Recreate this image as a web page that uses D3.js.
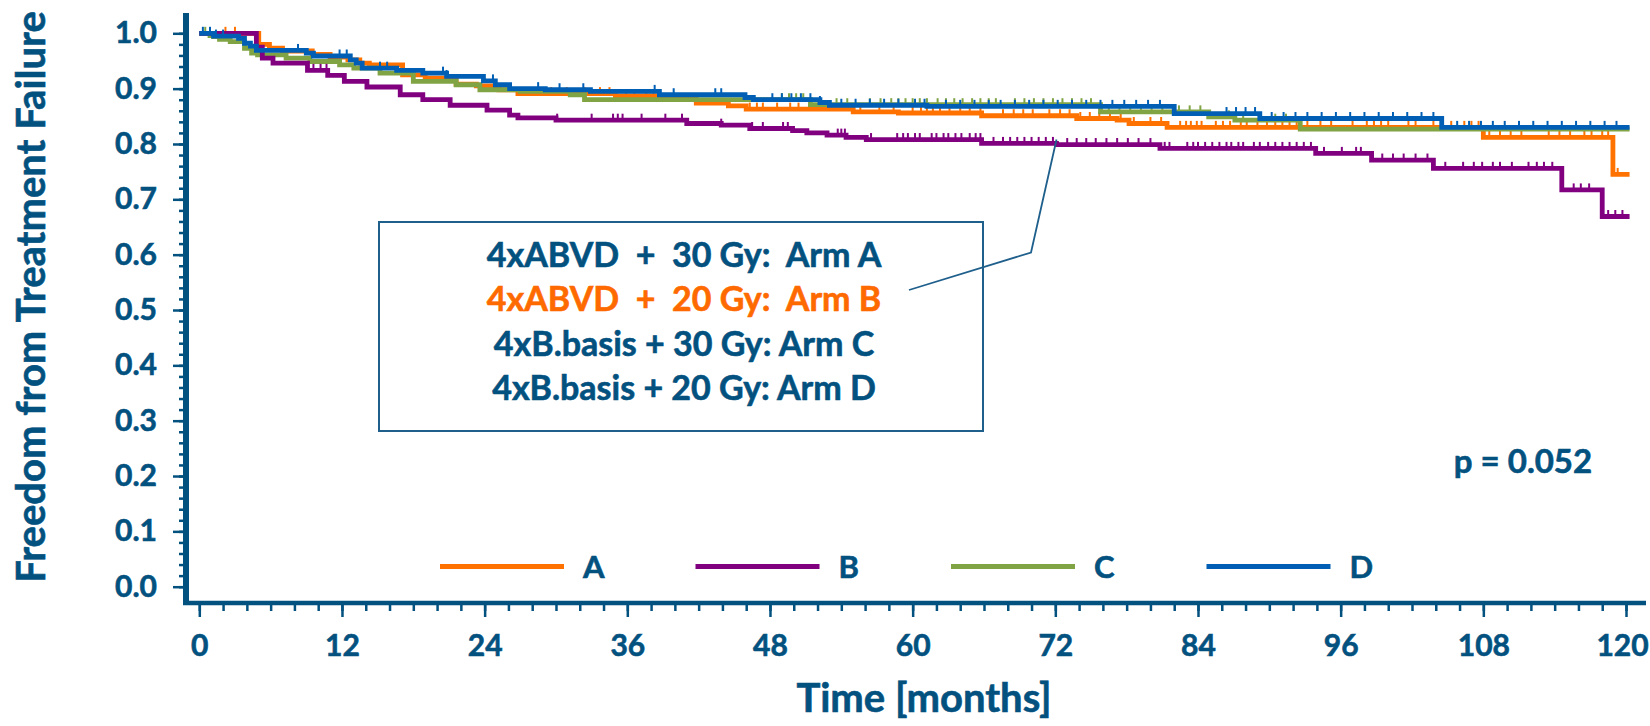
<!DOCTYPE html>
<html lang="en">
<head>
    <meta charset="UTF-8">
    <title>Freedom from Treatment Failure</title>
    <script src="https://cdn.jsdelivr.net/npm/d3@7"></script>
    <style>
        body {
            margin: 0;
            background: #fff;
        }
        text {
            font-family: Lato, "Open Sans", sans-serif;
            font-weight: bold;
            fill: #03517f;
            stroke: #03517f;
            stroke-width: 0.6px;
        }
        .tick line {
            stroke: #03517f;
            stroke-width: 2.5;
        }
        .tick text {
            font-size: 30px;
            font-family: Lato, "Open Sans", sans-serif;
            font-weight: bold;
        }
    </style>
</head>
<body>
<script>
    // Kaplan-Meier steps: time of step (months) and survival after it
    var armA_t = [0, 5.0, 5.9, 7.0, 9.5, 11.0, 12.5, 13.5, 14.3, 17.1, 19.0, 21.6, 23.3, 25.2, 26.8, 35.0, 41.8, 44.5, 46.0, 55.0, 58.8, 65.8, 73.8, 77.2, 78.2, 81.4, 108.0, 118.9];
    var armA_s = [1.0, 0.980, 0.973, 0.968, 0.962, 0.957, 0.952, 0.946, 0.943, 0.925, 0.919, 0.908, 0.905, 0.898, 0.891, 0.887, 0.874, 0.869, 0.863, 0.858, 0.856, 0.851, 0.846, 0.843, 0.837, 0.830, 0.812, 0.745];

    var armB_t = [0, 4.8, 5.3, 6.2, 9.1, 10.8, 12.2, 14.1, 16.9, 18.8, 21.1, 24.2, 26.1, 26.8, 30.0, 41.0, 43.9, 46.3, 49.9, 51.1, 52.8, 54.4, 56.1, 65.8, 72.1, 80.8, 93.9, 98.6, 103.8, 114.6, 118.0];
    var armB_s = [1.0, 0.975, 0.955, 0.946, 0.933, 0.924, 0.913, 0.903, 0.889, 0.880, 0.870, 0.861, 0.852, 0.847, 0.843, 0.837, 0.834, 0.828, 0.824, 0.820, 0.816, 0.812, 0.808, 0.801, 0.799, 0.792, 0.783, 0.771, 0.756, 0.717, 0.669];

    var armC_t = [0, 0.9, 1.2, 1.7, 2.6, 3.8, 4.4, 4.9, 7.3, 9.3, 11.8, 13.0, 15.2, 18.0, 21.6, 23.6, 27.0, 31.2, 32.4, 51.4, 75.8, 84.9, 87.1, 92.6];
    var armC_s = [1.0, 0.996, 0.994, 0.989, 0.985, 0.973, 0.964, 0.961, 0.955, 0.949, 0.943, 0.937, 0.928, 0.913, 0.907, 0.898, 0.895, 0.889, 0.880, 0.871, 0.858, 0.849, 0.843, 0.827];

    var armD_t = [0, 1.2, 3.3, 3.8, 4.3, 4.8, 9.0, 9.6, 12.7, 13.2, 13.7, 16.6, 18.8, 20.8, 23.9, 24.9, 26.1, 29.1, 32.9, 38.7, 45.9, 46.6, 52.2, 53.0, 61.2, 82.0, 89.2, 104.5];
    var armD_s = [1.0, 0.995, 0.991, 0.982, 0.977, 0.969, 0.964, 0.959, 0.952, 0.946, 0.937, 0.933, 0.928, 0.922, 0.914, 0.907, 0.900, 0.898, 0.895, 0.889, 0.884, 0.880, 0.875, 0.870, 0.868, 0.855, 0.846, 0.830];

    var endTime = 120.3;

    // censored observations (months)
    var censA = [2.2, 3.0, 29.6, 30.9, 32.4, 33.7, 34.5, 35.1, 35.9, 36.6, 37.6, 38.2, 46.3, 46.9, 47.4, 48.6, 49.7, 50.4, 55.6, 57.2, 58.4, 60.0, 60.7, 61.2, 61.7, 62.3, 63.1, 64.0, 64.8, 65.7, 67.6, 68.5, 69.3, 70.1, 71.5, 72.4, 73.2, 74.1, 74.9, 75.7, 76.6, 77.5, 78.6, 80.0, 80.9, 82.5, 83.0, 83.4, 83.9, 84.3, 85.5, 86.1, 86.7, 87.6, 88.1, 89.0, 89.8, 90.5, 91.1, 91.7, 92.3, 93.2, 94.3, 95.2, 97.0, 98.2, 98.8, 99.4, 100.0, 101.7, 102.3, 103.8, 105.3, 106.4, 107.0, 107.6, 108.5, 109.4, 110.3, 111.2, 113.5, 114.4, 115.3, 116.5, 117.1, 118.0, 118.5, 119.3];
    var censB = [9.6, 10.2, 10.7, 30.1, 33.0, 34.8, 35.2, 35.6, 37.2, 39.2, 40.6, 43.9, 46.5, 47.4, 49.1, 49.5, 53.7, 54.0, 54.3, 56.5, 58.7, 59.2, 59.6, 60.2, 60.6, 61.6, 62.0, 62.6, 63.0, 63.6, 64.1, 64.8, 65.3, 65.7, 66.8, 67.6, 68.2, 68.8, 69.4, 70.0, 70.6, 71.2, 71.8, 73.0, 73.8, 74.6, 75.4, 76.3, 77.2, 78.1, 79.0, 80.0, 81.2, 81.6, 83.1, 83.6, 84.0, 84.6, 85.2, 85.8, 86.4, 86.8, 87.4, 87.8, 88.7, 89.2, 89.9, 90.5, 91.1, 91.7, 92.3, 92.9, 93.5, 94.6, 96.1, 97.3, 97.7, 99.5, 100.4, 101.3, 102.3, 103.3, 104.8, 106.3, 107.2, 107.9, 108.8, 109.4, 110.4, 111.8, 112.5, 113.1, 113.8, 115.6, 116.2, 116.9, 118.5, 119.1, 119.7];
    var censC = [0.5, 49.0, 49.6, 50.2, 50.8, 53.6, 54.5, 56.4, 57.3, 58.2, 58.8, 59.4, 60.0, 60.6, 61.2, 62.1, 62.8, 63.5, 64.2, 65.0, 65.7, 66.4, 67.0, 68.6, 69.4, 70.2, 71.0, 71.8, 72.6, 73.4, 74.2, 75.0, 76.5, 77.4, 78.3, 79.2, 80.1, 81.0, 82.4, 83.3, 84.2, 86.6, 87.8, 89.2, 90.5, 91.4];
    var censD = [0.3, 0.9, 1.4, 2.0, 8.3, 11.8, 12.4, 15.2, 15.8, 20.5, 20.8, 24.7, 28.5, 30.3, 32.3, 38.3, 39.9, 43.4, 43.9, 48.2, 49.0, 49.8, 50.6, 51.4, 52.2, 54.0, 55.2, 56.4, 57.6, 58.8, 60.2, 61.0, 62.8, 64.0, 65.2, 66.4, 67.4, 68.6, 69.8, 71.0, 72.2, 73.4, 74.6, 75.8, 76.8, 77.8, 78.8, 79.8, 80.8, 86.4, 87.2, 88.0, 88.8, 90.2, 91.2, 92.2, 93.2, 94.4, 95.6, 96.8, 98.0, 99.2, 100.4, 101.6, 102.8, 103.8, 105.8, 106.8, 107.8, 108.8, 109.8, 111.0, 112.2, 113.4, 114.6, 115.8, 117.0, 118.2, 119.2];

    var armNames = ["A", "B", "C", "D"];
    var armColors = ["#ff7200", "#800080", "#80a444", "#005fb4"];
    var drawOrder = [0, 2, 1, 3];

    var boxLines = ["4xABVD  +  30 Gy:  Arm A", "4xABVD  +  20 Gy:  Arm B", "4xB.basis + 30 Gy: Arm C", "4xB.basis + 20 Gy: Arm D"];
    var boxColors = ["#03517f", "#ff6a00", "#03517f", "#03517f"];

    var xTicks = d3.range(0, 121, 12);
    var xMinor = d3.range(0, 121, 2);
    var yTicks = d3.range(0, 1.001, 0.1);
    var yMinor = d3.range(0, 1.001, 0.02);

    var pText = "p = 0.052";
    var noteTime = 72.1, noteValue = 0.808;

    var arms = [
        {t: armA_t, s: armA_s, c: censA},
        {t: armB_t, s: armB_s, c: censB},
        {t: armC_t, s: armC_s, c: censC},
        {t: armD_t, s: armD_s, c: censD}
    ];

    var width = 1650, height = 726;
    var axisColor = "#03517f";

    var x = d3.scaleLinear().domain([0, 120]).range([199.3, 1626]);
    var y = d3.scaleLinear().domain([0, 1]).range([586.7, 33.3]);

    var svg = d3.select("body").append("svg")
            .attr("width", width)
            .attr("height", height);

    // minor + major ticks
    svg.append("g")
            .attr("transform", "translate(0,605)")
            .call(d3.axisBottom(x).tickValues(xMinor).tickSize(6).tickSizeOuter(0).tickFormat(""))
            .call(function (g) { g.select(".domain").remove(); });

    var xAxisG = svg.append("g")
            .attr("transform", "translate(0,605)")
            .call(d3.axisBottom(x).tickValues(xTicks).tickSize(12).tickSizeOuter(0).tickPadding(18))
            .call(function (g) { g.select(".domain").remove(); });

    // last label sits right at the edge, as in the original
    xAxisG.selectAll(".tick text")
            .filter(function (d) { return d === 120; })
            .attr("dx", -4);

    svg.append("g")
            .attr("transform", "translate(183,0)")
            .call(d3.axisLeft(y).tickValues(yMinor).tickSize(4).tickSizeOuter(0).tickFormat(""))
            .call(function (g) { g.select(".domain").remove(); });

    svg.append("g")
            .attr("transform", "translate(183,0)")
            .call(d3.axisLeft(y).tickValues(yTicks).tickSize(10).tickSizeOuter(0).tickPadding(16).tickFormat(d3.format(".1f")))
            .call(function (g) { g.select(".domain").remove(); });

    svg.selectAll(".tick text").attr("fill", axisColor);

    // axis lines
    svg.append("line")
            .attr("x1", 186).attr("x2", 186)
            .attr("y1", 13).attr("y2", 605)
            .attr("stroke", axisColor)
            .attr("stroke-width", 6);

    svg.append("line")
            .attr("x1", 183).attr("x2", 1646)
            .attr("y1", 603).attr("y2", 603)
            .attr("stroke", axisColor)
            .attr("stroke-width", 4.5);

    // axis titles
    svg.append("text")
            .attr("transform", "translate(45,297) rotate(-90)")
            .attr("text-anchor", "middle")
            .style("font-size", "40px")
            .text("Freedom from Treatment Failure");

    svg.append("text")
            .attr("x", 924)
            .attr("y", 712)
            .attr("text-anchor", "middle")
            .style("font-size", "40px")
            .text("Time [months]");

    // curves
    var line = d3.line()
            .curve(d3.curveStepAfter)
            .x(function (d) { return x(d[0]); })
            .y(function (d) { return y(d[1]); });

    function survAt(arm, t) {
        var i = d3.bisectRight(arm.t, t) - 1;
        return arm.s[Math.max(0, i)];
    }

    drawOrder.forEach(function (k) {
        var arm = arms[k];
        var pts = arm.t.map(function (t, i) { return [t, arm.s[i]]; });
        pts.push([endTime, arm.s[arm.s.length - 1]]);

        var g = svg.append("g").attr("class", "arm");

        g.append("path")
                .datum(pts)
                .attr("fill", "none")
                .attr("stroke", armColors[k])
                .attr("stroke-width", 4.8)
                .attr("d", line);

        g.selectAll("line")
                .data(arm.c)
                .enter().append("line")
                .attr("x1", function (d) { return x(d); })
                .attr("x2", function (d) { return x(d); })
                .attr("y1", function (d) { return y(survAt(arm, d)); })
                .attr("y2", function (d) { return y(survAt(arm, d)) - 6.5; })
                .attr("stroke", armColors[k])
                .attr("stroke-width", 2);
    });

    // bottom legend
    var legend = svg.selectAll(".legend")
            .data(armNames)
            .enter().append("g")
            .attr("class", "legend")
            .attr("transform", function (d, i) { return "translate(" + (440 + i * 255.5) + ",566.5)"; });

    legend.append("line")
            .attr("x1", 0).attr("x2", 124)
            .attr("stroke", function (d, i) { return armColors[i]; })
            .attr("stroke-width", 5);

    legend.append("text")
            .attr("x", 143)
            .attr("y", 11)
            .style("font-size", "31px")
            .text(function (d) { return d; });

    // annotation box
    svg.append("rect")
            .attr("x", 379).attr("y", 222)
            .attr("width", 604).attr("height", 209)
            .attr("fill", "#fff")
            .attr("stroke", "#1f5f8c")
            .attr("stroke-width", 2);

    svg.selectAll(".boxline")
            .data(boxLines)
            .enter().append("text")
            .attr("class", "boxline")
            .attr("x", 684)
            .attr("y", function (d, i) { return 267 + i * 44.3; })
            .attr("text-anchor", "middle")
            .style("white-space", "pre")
            .style("font-size", "34px")
            .style("fill", function (d, i) { return boxColors[i]; })
            .style("stroke", function (d, i) { return boxColors[i]; })
            .text(function (d) { return d; });

    svg.append("polyline")
            .attr("points", [[909, 290], [1031, 252.5], [x(noteTime), y(noteValue)]].join(" "))
            .attr("fill", "none")
            .attr("stroke", "#1f5f8c")
            .attr("stroke-width", 1.8);

    svg.append("text")
            .attr("x", 1523)
            .attr("y", 473)
            .attr("text-anchor", "middle")
            .style("font-size", "33px")
            .text(pText);
</script>
</body>
</html>
